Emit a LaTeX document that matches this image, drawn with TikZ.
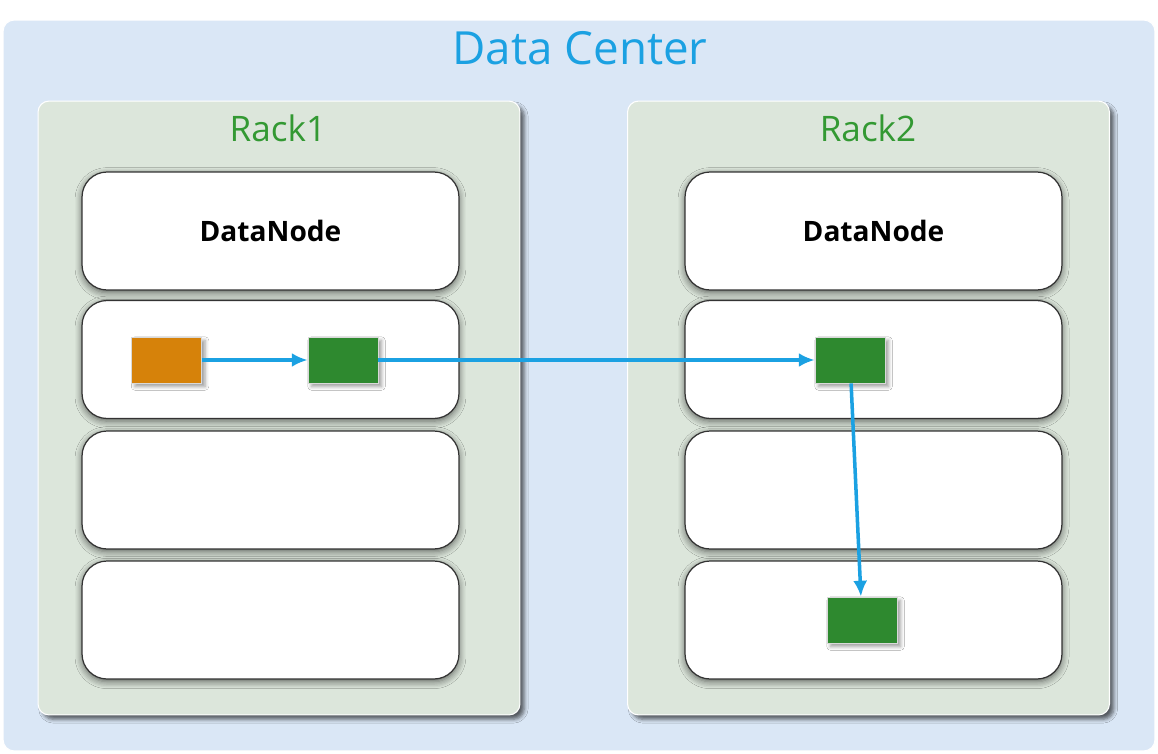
\documentclass[tikz,border=0pt]{standalone}
\usepackage{fontspec}
\setmainfont{Open Sans}
\usetikzlibrary{arrows.meta,positioning,shadows.blur}
\definecolor{dcfill}{HTML}{DAE7F6}
\definecolor{rackfill}{HTML}{DCE6DB}
\definecolor{dcblue}{HTML}{1BA1E2}
\definecolor{rackgreen}{HTML}{339933}
\definecolor{blkorange}{HTML}{D6820A}
\definecolor{blkgreen}{HTML}{2E892F}
\tikzset{>={Latex[length=9pt,width=8pt]}}
\tikzset{dcbox/.style={draw=white, line width=0.6pt, fill=dcfill, rounded corners=0.22cm, minimum width=23.04cm, minimum height=14.62cm}}
\tikzset{rackbox/.style={draw=white, line width=0.6pt, fill=rackfill, rounded corners=0.22cm, minimum width=9.64cm, minimum height=12.28cm, blur shadow={shadow xshift=2.5pt, shadow yshift=-2.5pt, shadow blur steps=5, shadow opacity=60}}}
\tikzset{slot/.style={draw=black!80, line width=0.7pt, fill=white, rounded corners=0.5cm, minimum width=7.54cm, minimum height=2.36cm, blur shadow={shadow xshift=0pt, shadow yshift=-1.5pt, shadow blur radius=4pt, shadow blur steps=6, shadow opacity=60}}}
\tikzset{blk/.style={draw=white!70!gray, line width=0.5pt, minimum width=1.4cm, minimum height=0.92cm, inner sep=0pt, blur shadow={shadow xshift=2pt, shadow yshift=-2pt, shadow blur steps=4, shadow opacity=40}}}
\tikzset{link/.style={->, draw=dcblue, line width=2pt}}

\begin{document}
\begin{tikzpicture}[x=0.02cm,y=-0.02cm]
      \useasboundingbox (0,0) rectangle (1158,753);
      \node[dcbox] (dc) at (579,385.5) {};
      \node[text=dcblue, font=\fontsize{26}{30}\selectfont] (dctitle) at (580,48) {Data Center};
      % racks
      \node[rackbox] (rack1) at (279,408) {};
      \node[rackbox] (rack2) at (868.5,408) {};
      \node[text=rackgreen, font=\fontsize{20}{24}\selectfont] (r1title) at (278,128) {Rack1};
      \node[text=rackgreen, font=\fontsize{20}{24}\selectfont] (r2title) at (868,128) {Rack2};
      % slots
      \node[slot, font=\fontsize{16}{20}\selectfont\bfseries] (s11) at (270.5,231) {DataNode};
      \node[slot] (s12) at (270.5,359.5) {};
      \node[slot] (s13) at (270.5,490) {};
      \node[slot] (s14) at (270.5,620) {};
      \node[slot, font=\fontsize{16}{20}\selectfont\bfseries] (s21) at (873.5,231) {DataNode};
      \node[slot] (s22) at (873.5,359.5) {};
      \node[slot] (s23) at (873.5,490) {};
      \node[slot] (s24) at (873.5,620) {};
      % blocks
      \node[blk, fill=blkorange] (b0) at (166.5,360) {};
      \node[blk, fill=blkgreen] (b1) at (343,360) {};
      \node[blk, fill=blkgreen] (b2) at (850,360) {};
      \node[blk, fill=blkgreen] (b3) at (862,620) {};
      \draw[link] (b0) -- (b1);
      \draw[link] (b1) -- (b2);
      \draw[link] (b2) -- (b3);
    \end{tikzpicture}
\end{document}
